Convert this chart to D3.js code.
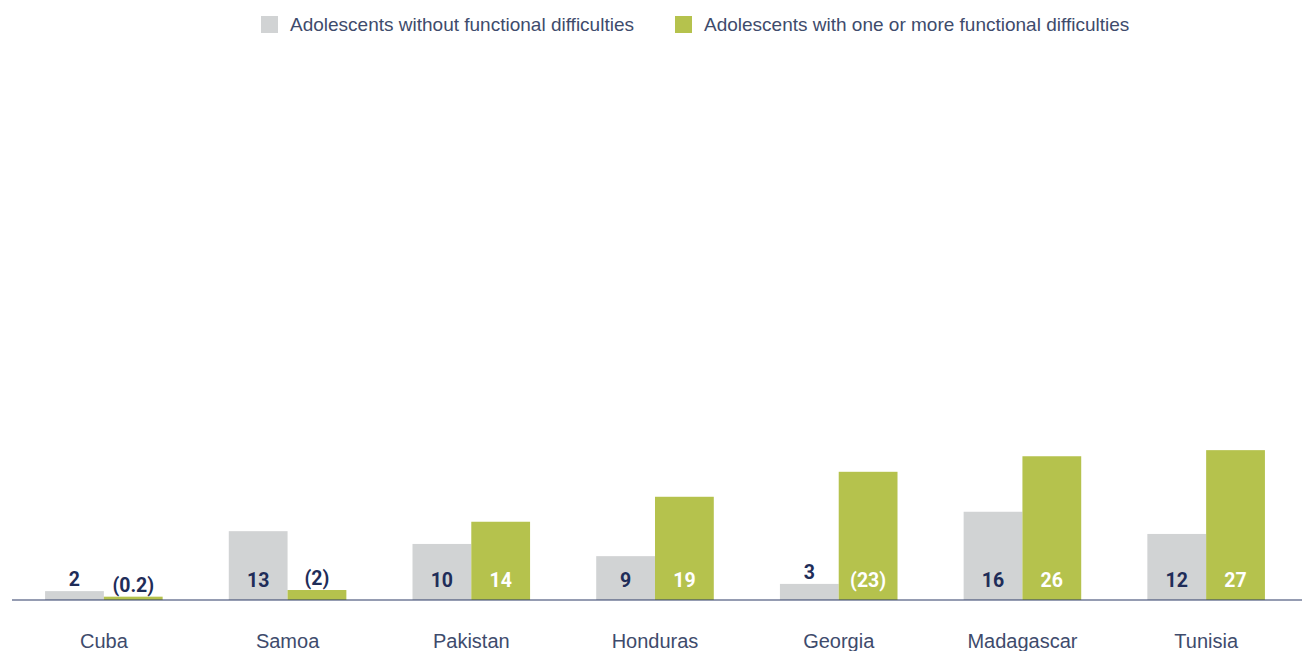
<!DOCTYPE html>
<html>
<head>
<meta charset="utf-8">
<script src="https://cdn.jsdelivr.net/npm/d3@7/dist/d3.min.js"></script>
<style>
  html, body { margin: 0; padding: 0; background: #ffffff; }
  svg { display: block; }
</style>
</head>
<body>
<div id="chart"></div>
<script>
const countries = ["Cuba", "Samoa", "Pakistan", "Honduras", "Georgia", "Madagascar", "Tunisia"];
const seriesNames = ["Adolescents without functional difficulties", "Adolescents with one or more functional difficulties"];
const withoutValues = [1.6, 12.4, 10.1, 7.9, 2.9, 15.9, 11.9];
const withValues = [0.6, 1.8, 14.1, 18.6, 23.1, 25.9, 27.0];
const withoutLabels = ["2", "13", "10", "9", "3", "16", "12"];
const withLabels = ["(0.2)", "(2)", "14", "19", "(23)", "26", "27"];

const W = 1302, H = 651;
const colors = ["#d1d3d4", "#b5c24d"];
const navy = "#1f2d59";
const textColor = "#3e4b6c";

const svg = d3.select("#chart").append("svg").attr("width", W).attr("height", H);

const x0 = d3.scaleBand().domain(countries).range([12, 1298]).paddingInner(0.36).paddingOuter(0.18);
const x1 = d3.scaleBand().domain([0, 1]).range([0, x0.bandwidth()]);
const y = d3.scaleLinear().domain([0, 100]).range([600, 45]);

const rows = countries.map((c, i) => ({
  country: c,
  bars: [
    { s: 0, v: withoutValues[i], label: withoutLabels[i] },
    { s: 1, v: withValues[i], label: withLabels[i] }
  ]
}));

const g = svg.selectAll("g.grp").data(rows).enter().append("g")
  .attr("class", "grp")
  .attr("transform", d => `translate(${x0(d.country)},0)`);

g.selectAll("rect").data(d => d.bars).enter().append("rect")
  .attr("x", d => x1(d.s))
  .attr("width", x1.bandwidth())
  .attr("y", d => y(d.v))
  .attr("height", d => y(0) - y(d.v))
  .attr("fill", d => colors[d.s]);

g.selectAll("text.val").data(d => d.bars).enter().append("text")
  .attr("class", "val")
  .attr("x", d => x1(d.s) + x1.bandwidth() / 2)
  .attr("y", d => {
    const h = y(0) - y(d.v);
    return h > 24 ? 587 : y(d.v) - 5;
  })
  .attr("text-anchor", "middle")
  .attr("font-family", "Roboto, 'Liberation Sans', sans-serif")
  .attr("font-weight", 700)
  .attr("font-size", 19.5)
  .attr("fill", d => {
    const h = y(0) - y(d.v);
    return (h > 24 && d.s === 1) ? "#ffffff" : navy;
  })
  .text(d => d.label);

// baseline axis
svg.append("line")
  .attr("x1", 12).attr("x2", W)
  .attr("y1", y(0)).attr("y2", y(0))
  .attr("stroke", "#2d3a66").attr("stroke-width", 1.2);

// category labels via axis
const xAxis = d3.axisBottom(x0).tickSize(0).tickPadding(0);
const ax = svg.append("g").attr("transform", `translate(0,${y(0)})`).call(xAxis);
ax.select(".domain").remove();
ax.selectAll("text")
  .attr("y", 48)
  .attr("dy", 0)
  .attr("font-family", "'Liberation Sans', Arial, sans-serif")
  .attr("font-size", 20)
  .attr("fill", textColor);

// legend
const legendX = [261, 675];
const lg = svg.selectAll("g.leg").data(seriesNames).enter().append("g")
  .attr("class", "leg")
  .attr("transform", (d, i) => `translate(${legendX[i]},16)`);
lg.append("rect").attr("width", 17).attr("height", 17).attr("fill", (d, i) => colors[i]);
lg.append("text")
  .attr("x", 29).attr("y", 15)
  .attr("font-family", "'Liberation Sans', Arial, sans-serif")
  .attr("font-size", 19)
  .attr("fill", textColor)
  .text(d => d);
</script>
</body>
</html>
